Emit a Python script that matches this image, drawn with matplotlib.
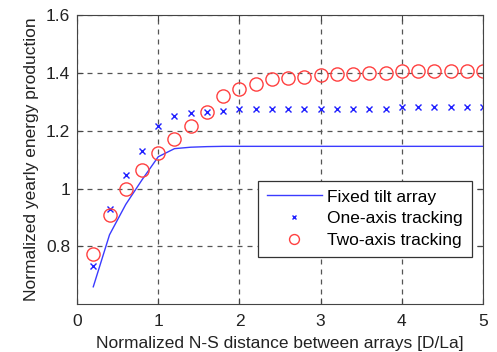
import matplotlib
matplotlib.use('Agg')
import matplotlib.pyplot as plt
import numpy as np

plt.rcParams['font.family'] = ['Liberation Sans', 'DejaVu Sans']

# normalized N-S distance D/La
dist = [0.2, 0.4, 0.6, 0.8, 1.0, 1.2, 1.4, 1.6, 1.8, 2.0, 2.2, 2.4, 2.6,
        2.8, 3.0, 3.2, 3.4, 3.6, 3.8, 4.0, 4.2, 4.4, 4.6, 4.8, 5.0]

fixed_tilt = [0.66, 0.84, 0.945, 1.03, 1.11, 1.138, 1.143, 1.145, 1.146, 1.146,
              1.146, 1.146, 1.146, 1.146, 1.146, 1.146, 1.146, 1.146, 1.146,
              1.146, 1.146, 1.146, 1.146, 1.146, 1.146]

one_axis = [0.732, 0.928, 1.048, 1.131, 1.218, 1.252, 1.261, 1.266, 1.270, 1.276,
            1.276, 1.276, 1.276, 1.276, 1.276, 1.276, 1.276, 1.276, 1.276,
            1.282, 1.282, 1.282, 1.282, 1.282, 1.282]

two_axis = [0.772, 0.907, 0.997, 1.063, 1.123, 1.172, 1.218, 1.264, 1.321, 1.345,
            1.362, 1.378, 1.384, 1.387, 1.392, 1.395, 1.397, 1.401, 1.401,
            1.406, 1.406, 1.406, 1.406, 1.406, 1.406]

xticks = [0, 1, 2, 3, 4, 5]
yticks = [0.8, 1.0, 1.2, 1.4, 1.6]
yticklabels = ['0.8', '1', '1.2', '1.4', '1.6']

fs = 12.5

fig = plt.figure(figsize=(4.97, 3.52), dpi=100)
ax = fig.add_axes([0.155, 0.136, 0.817, 0.821])

ax.plot(dist, fixed_tilt, '-', color='#3b3bff', lw=1.0, label='Fixed tilt array')
ax.plot(dist, one_axis, 'x', color='#2020ff', ms=4.5, mew=1.0, ls='none',
        label='One-axis tracking')
ax.plot(dist, two_axis, 'o', mfc='none', mec='#ff4040', ms=9.5, mew=1.0, ls='none',
        label='Two-axis tracking')

ax.set_xlim(0, 5)
ax.set_ylim(0.6, 1.6)
ax.set_xticks(xticks)
ax.set_yticks(yticks)
ax.set_yticklabels(yticklabels)
ax.tick_params(direction='in', top=True, right=True, labelsize=fs, length=4,
               color='#444444', labelcolor='#222222', pad=5)
ax.tick_params(axis='x', pad=7)
for s in ax.spines.values():
    s.set_color('#444444')
    s.set_linewidth(0.8)

ax.grid(True, color='#555555', ls=(0, (4, 4)), lw=0.9)

ax.set_xlabel('Normalized N-S distance between arrays [D/La]', fontsize=fs,
              color='#222222', labelpad=5)
ax.set_ylabel('Normalized yearly energy production', fontsize=fs,
              color='#222222', labelpad=5)

leg = ax.legend(loc='lower right', bbox_to_anchor=(0.972, 0.164), fontsize=fs,
                fancybox=False, framealpha=1, edgecolor='#333333',
                borderpad=0.5, labelspacing=0.38, handlelength=3.2,
                handletextpad=0.3, borderaxespad=0, markerscale=0.75)
leg.get_frame().set_linewidth(0.9)

fig.savefig('out.png', dpi=100)
